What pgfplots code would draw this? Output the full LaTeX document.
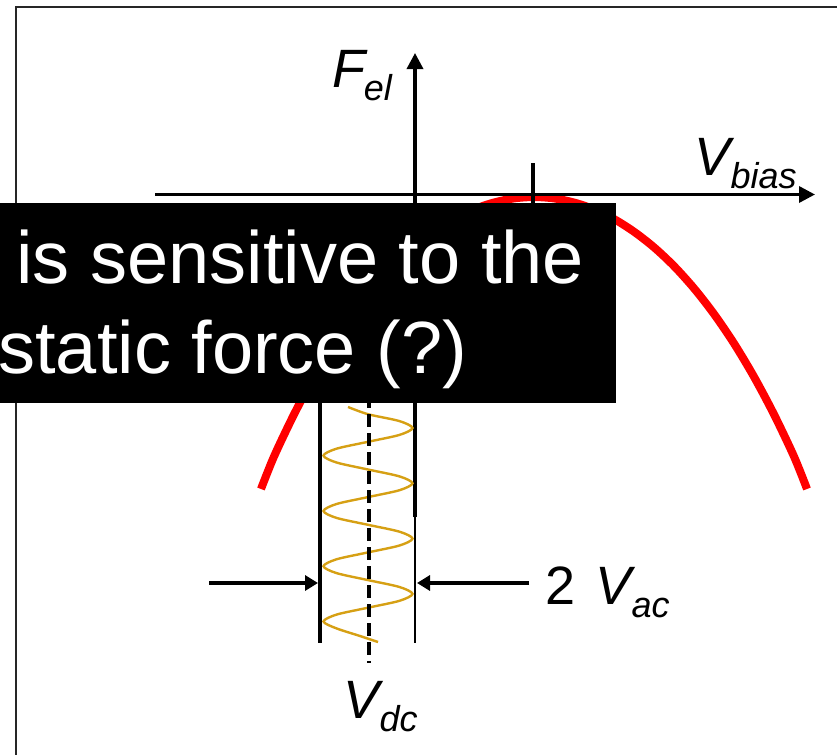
\documentclass[border=0pt]{standalone}
\usepackage{fontspec}
\setmainfont{Liberation Sans}
\usepackage{pgfplots}
\pgfplotsset{compat=1.18}
\usetikzlibrary{arrows.meta}
\definecolor{wave}{RGB}{214,160,20}
\newcommand\lab[2]{\textit{#1}\kern-2pt\raisebox{-6.5pt}{\fontsize{18}{20}\selectfont\textit{#2}}}

\begin{document}
\begin{tikzpicture}
\begin{axis}[
    scale only axis, width=418.5pt, height=377.5pt,
    xmin=0, xmax=837, ymin=0, ymax=755, y dir=reverse,
    hide axis, clip=false,
    every axis plot/.append style={mark=none},
]
% frame
\addplot[black!85, line width=1pt] coordinates {(16.5,800)(16.5,7)(900,7)};
% electrostatic force curve
\addplot[red, line width=4pt, smooth] coordinates {
    (261,489)(274,456.5)(294,414.4)(314,376.8)(334,343.4)(354,314)(374,288.3)
    (394,266.1)(414,247.3)(434,231.7)(454,219)(474,209.3)(494,202.5)(514,198.4)
    (534,197)
    (554,198.4)(574,202.5)(594,209.3)(614,219)(634,231.7)(654,247.3)(674,266.1)
    (694,288.3)(714,314)(734,343.4)(754,376.8)(774,414.4)(794,456.5)(807,489)
};
% axes
\addplot[black, line width=1.7pt, -{Triangle[length=8pt,width=8pt]}] coordinates {(155,194.5)(815,194.5)};
\addplot[black, line width=1.7pt, -{Triangle[length=8pt,width=8pt]}] coordinates {(415,517)(415,53)};
\addplot[black, line width=1.6pt] coordinates {(533,163)(533,215)};
% limits of the ac excursion
\addplot[black, line width=1.7pt] coordinates {(320,300)(320,643)};
\addplot[black, line width=1.1pt] coordinates {(415,505)(415,643)};
% ac voltage
\addplot[wave, line width=1.2pt, smooth] coordinates {
    (348,407)(368,414.2)(399.5,421.1)(412.5,428)(399.5,434.9)(368,441.8)
    (336.5,448.7)(323.5,455.6)(336.5,462.5)(368,469.5)(399.5,476.4)(412.5,483.3)
    (399.5,490.2)(368,497.1)(336.5,504)(323.5,511)(336.5,517.9)(368,524.8)
    (399.5,531.7)(412.5,538.6)(399.5,545.5)(368,552.4)(336.5,559.3)(323.5,566.2)
    (336.5,573.1)(368,580.1)(399.5,587)(412.5,593.9)(399.5,600.8)(368,607.7)
    (336.5,614.6)(323.5,621.5)(336.5,628.4)(360,636)(378,642)
};
% dc offset
\addplot[black, line width=1.6pt, dash pattern=on 6.5pt off 3pt] coordinates {(369,395)(369,663)};
% 2 Vac arrows
\addplot[black, line width=1.6pt, -{Triangle[length=6.5pt,width=7.5pt]}] coordinates {(209,583)(318,583)};
\addplot[black, line width=1.6pt, -{Triangle[length=6.5pt,width=7.5pt]}] coordinates {(529,583)(417,583)};
% caption box
\addplot[fill=black, draw=none] coordinates {(-20,203)(616,203)(616,403)(-20,403)} -- cycle;
\node[anchor=base west, inner sep=0, text=white, font=\fontsize{37}{44}\selectfont] at (axis cs:16,283) {is sensitive to the};
\node[anchor=base west, inner sep=0, text=white, font=\fontsize{37}{44}\selectfont] at (axis cs:-2,373) {static force (?)};
% labels
\node[anchor=base west, inner sep=0, font=\fontsize{27}{30}\selectfont] at (axis cs:332,87) {\lab{F}{el}};
\node[anchor=base west, inner sep=0, font=\fontsize{27}{30}\selectfont] at (axis cs:694,175) {\lab{V}{bias}};
\node[anchor=base west, inner sep=0, font=\fontsize{27}{30}\selectfont] at (axis cs:545,604) {2\hspace{10pt}\lab{V}{ac}};
\node[anchor=base west, inner sep=0, font=\fontsize{27}{30}\selectfont] at (axis cs:343,718) {\lab{V}{dc}};
\end{axis}
\pgfresetboundingbox
\path (current axis.south west) rectangle (current axis.north east);
\end{tikzpicture}
\end{document}
